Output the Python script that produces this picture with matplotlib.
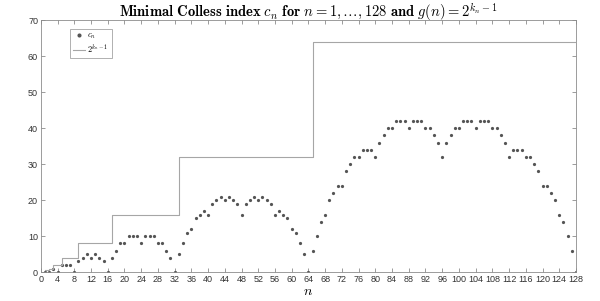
import numpy as np
import matplotlib
matplotlib.use("Agg")
import matplotlib.pyplot as plt

# ==========================
# Data
# ==========================
n = np.arange(1, 129)

# minimal Colless index c_n, n = 1..128
c_n = [
    0, 0, 1, 0, 2, 2, 2, 0,
    3, 4, 5, 4, 5, 4, 3, 0,
    4, 6, 8, 8, 10, 10, 10, 8, 10, 10, 10, 8, 8, 6, 4, 0,
    5, 8, 11, 12, 15, 16, 17, 16, 19, 20, 21, 20, 21, 20, 19, 16,
    19, 20, 21, 20, 21, 20, 19, 16, 17, 16, 15, 12, 11, 8, 5, 0,
    6, 10, 14, 16, 20, 22, 24, 24, 28, 30, 32, 32, 34, 34, 34, 32,
    36, 38, 40, 40, 42, 42, 42, 40, 42, 42, 42, 40, 40, 38, 36, 32,
    36, 38, 40, 40, 42, 42, 42, 40, 42, 42, 42, 40, 40, 38, 36, 32,
    34, 34, 34, 32, 32, 30, 28, 24, 24, 22, 20, 16, 14, 10, 6, 0,
]

# g(n) = 2^(k_n - 1)
g_n = [0.5, 1, 2, 2] + [4] * 4 + [8] * 8 + [16] * 16 + [32] * 32 + [64] * 64

x_ticks = list(range(0, 129, 4))
y_ticks = list(range(0, 71, 10))

# ==========================
# Plot
# ==========================
plt.rcParams["mathtext.fontset"] = "cm"
plt.rcParams["font.family"] = ["Liberation Sans", "DejaVu Sans"]

axis_gray = "#8c8c8c"

fig = plt.figure(figsize=(6.0, 3.01), dpi=100)
ax = fig.add_axes([0.068, 0.096, 0.892, 0.837])

ax.plot(n, c_n, linestyle="none", marker=".", markersize=2.6,
        color="#555555", label=r"$c_n$")
ax.step(n, g_n, where="post", color="#a6a6a6", linewidth=0.8,
        label=r"$2^{k_n-1}$")

ax.set_xlim(0, 128)
ax.set_ylim(0, 70)
ax.set_xticks(x_ticks)
ax.set_yticks(y_ticks)

ax.tick_params(direction="in", top=True, right=True, length=3,
               width=0.6, color=axis_gray, labelcolor="#333333",
               labelsize=6.5, pad=2)
for side in ax.spines.values():
    side.set_color(axis_gray)
    side.set_linewidth(0.6)

ax.set_xlabel(r"$n$", fontsize=10, labelpad=0)
ax.set_title(r"$\mathbf{Minimal\ Colless\ index}\ c_n\ \mathbf{for}\ "
             r"n=1,\ldots,128\ \mathbf{and}\ g(n)=2^{k_n-1}$",
             fontsize=10.5, pad=2.5)

leg = ax.legend(loc="upper left", bbox_to_anchor=(0.05, 0.975),
                fontsize=6, frameon=True, fancybox=False,
                handlelength=1.5, borderpad=0.35, labelspacing=0.2,
                handletextpad=0.2, borderaxespad=0.3, markerscale=1.5)
leg.get_frame().set_edgecolor(axis_gray)
leg.get_frame().set_linewidth(0.6)

plt.savefig("out.png", dpi=100)
plt.close()
